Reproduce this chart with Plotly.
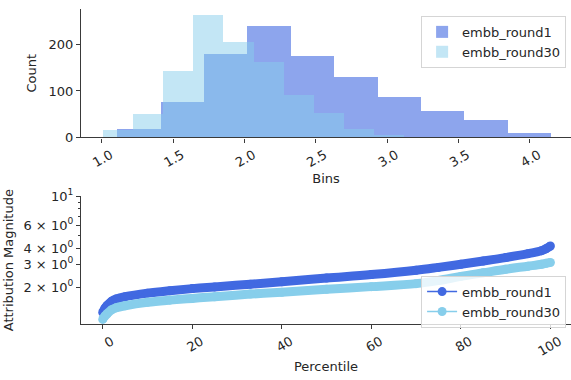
import numpy as np
import plotly.graph_objects as go

# ---------------- data ----------------
round1_edges = [1.109, 1.413, 1.717, 2.021, 2.325, 2.629, 2.933, 3.237, 3.541, 3.845, 4.149]
round1_counts = [19, 77, 179, 240, 175, 130, 87, 57, 38, 9]
round30_edges = [1.009, 1.220, 1.431, 1.642, 1.853, 2.064, 2.275, 2.486, 2.697, 2.908, 3.119]
round30_counts = [15, 51, 143, 264, 206, 162, 92, 53, 19, 6]

percentile = [0, 0.5, 1, 2, 3, 5, 10, 15, 20, 25, 33, 40, 50, 60, 70, 75, 80, 85, 90, 95, 98, 99, 100]
round1_mag = [1.28, 1.38, 1.45, 1.56, 1.62, 1.69, 1.80, 1.88, 1.95, 2.01, 2.11, 2.20, 2.35, 2.50,
              2.70, 2.84, 3.00, 3.18, 3.38, 3.62, 3.82, 3.95, 4.15]
round30_mag = [1.13, 1.20, 1.25, 1.34, 1.39, 1.44, 1.53, 1.59, 1.64, 1.69, 1.77, 1.83, 1.93, 2.02,
               2.13, 2.25, 2.42, 2.58, 2.75, 2.90, 3.00, 3.05, 3.10]

names = ["embb_round1", "embb_round30"]
ytick_vals = [2, 3, 4, 6, 10]
ytick_text = ["2 × 10<sup>0</sup>", "3 × 10<sup>0</sup>", "4 × 10<sup>0</sup>",
              "6 × 10<sup>0</sup>", "10<sup>1</sup>"]
yminor_vals = [5, 7, 8, 9]

# ---------------- figure ----------------
FONT = "DejaVu Sans"
FS = 13
TXT = "#262626"
AX = "#3a3a3a"

fig = go.Figure()

hist_colors = ["rgba(65,105,225,0.6)", "rgba(135,206,235,0.5)"]
for edges, counts, name, col in [(round1_edges, round1_counts, names[0], hist_colors[0]),
                                 (round30_edges, round30_counts, names[1], hist_colors[1])]:
    e = np.array(edges)
    fig.add_trace(go.Bar(
        x=(e[:-1] + e[1:]) / 2, y=counts, width=np.diff(e), name=name,
        marker=dict(color=col, line=dict(width=0)),
        xaxis="x", yaxis="y", legend="legend"))

line_colors = ["#4169E1", "#87CEEB"]
for mag, name, col in [(round1_mag, names[0], line_colors[0]),
                       (round30_mag, names[1], line_colors[1])]:
    fig.add_trace(go.Scatter(
        x=percentile, y=mag, mode="lines", line=dict(color=col, width=9, shape="spline"),
        showlegend=False, hoverinfo="skip", xaxis="x2", yaxis="y2"))
    fig.add_trace(go.Scatter(
        x=percentile, y=mag, mode="lines+markers", name=name,
        line=dict(color=col, width=1.5), marker=dict(color=col, size=9),
        xaxis="x2", yaxis="y2", legend="legend2"))

axis_common = dict(showline=True, linecolor=AX, linewidth=1.3, ticks="outside", ticklen=4,
                   tickcolor=AX, tickwidth=1.1, showgrid=False, zeroline=False,
                   tickfont=dict(family=FONT, size=FS, color=TXT),
                   title_font=dict(family=FONT, size=FS, color=TXT))

fig.update_layout(
    width=571, height=380, autosize=False,
    margin=dict(l=81, r=0, t=5, b=56),
    paper_bgcolor="white", plot_bgcolor="white",
    barmode="overlay", bargap=0,
    font=dict(family=FONT, size=FS, color=TXT),
    xaxis=dict(domain=[0, 1], anchor="y", range=[0.855, 4.289], tick0=1.0, dtick=0.5,
               tickformat=".1f", tickangle=-30, ticklabelshift=9,
               title=dict(text="Bins", standoff=4), **axis_common),
    yaxis=dict(domain=[0.5925, 1], anchor="x", range=[0, 276.6], dtick=100,
               title=dict(text="Count", standoff=8), **axis_common),
    xaxis2=dict(domain=[0, 1], anchor="y2", range=[-4.85, 104.6], tick0=0, dtick=20,
                tickangle=-30, ticklabelshift=9,
                title=dict(text="Percentile", standoff=4), **axis_common),
    yaxis2=dict(domain=[0, 0.4053], anchor="x2", type="log",
                range=[np.log10(1.042), 1.0], tickvals=ytick_vals, ticktext=ytick_text,
                minor=dict(tickvals=yminor_vals, ticks="outside", ticklen=2,
                           tickcolor=AX, tickwidth=1),
                title=dict(text="Attribution Magnitude", standoff=6), **axis_common),
    legend=dict(x=0.99, y=0.978, xanchor="right", yanchor="top",
                bgcolor="rgba(255,255,255,0.8)", bordercolor="#d5d5d5", borderwidth=1,
                font=dict(family=FONT, size=FS, color=TXT)),
    legend2=dict(x=0.99, y=0.1536, xanchor="right", yanchor="top",
                 bgcolor="rgba(255,255,255,0.8)", bordercolor="#d5d5d5", borderwidth=1,
                 font=dict(family=FONT, size=FS, color=TXT)),
)

fig.write_html("out.html")
